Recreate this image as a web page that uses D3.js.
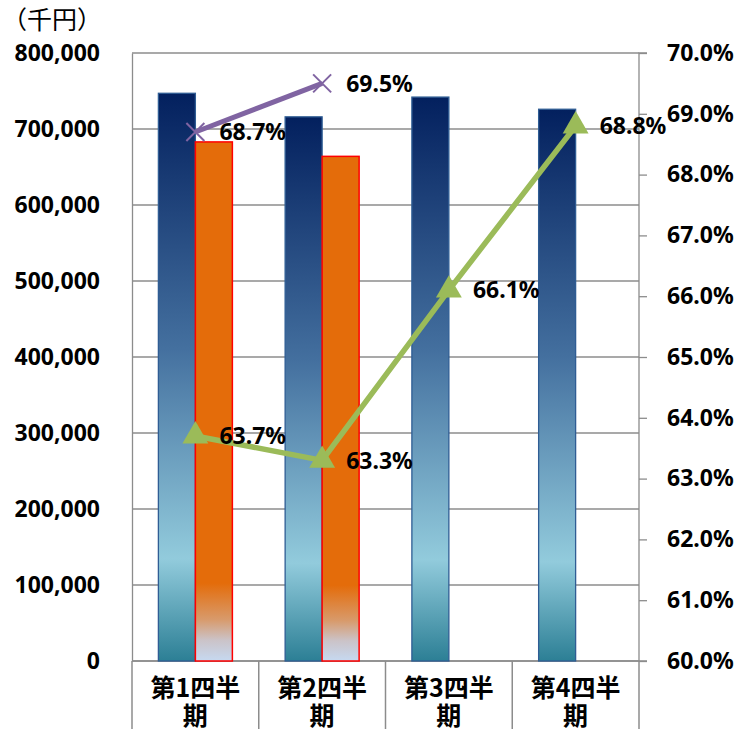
<!DOCTYPE html>
<html>
<head>
<meta charset="utf-8">
<script src="https://cdn.jsdelivr.net/npm/d3@7"></script>
<style>
  body { margin: 0; background: #fff; }
  text { font-family: "Noto Sans", "Noto Sans CJK JP", sans-serif; }
</style>
</head>
<body>
<div id="viz"></div>
<script>
// data
let quarters = ['第1四半期', '第2四半期', '第3四半期', '第4四半期'];
let quarterLines = [['第1四半', '期'], ['第2四半', '期'], ['第3四半', '期'], ['第4四半', '期']];
let salesValues = [747000, 716000, 742000, 726000];     // blue bars
let costValues = [683000, 664000, null, null];          // orange bars
let rateGreen = [63.7, 63.3, 66.1, 68.8];               // triangle line
let ratePurple = [68.7, 69.5, null, null];              // x line
let leftTicks = [0, 100000, 200000, 300000, 400000, 500000, 600000, 700000, 800000];
let rightTicks = [60, 61, 62, 63, 64, 65, 66, 67, 68, 69, 70];

let margin = {top: 53, right: 96, bottom: 68, left: 132},
    width = 735 - margin.left - margin.right,
    height = 729 - margin.top - margin.bottom;

let svg = d3.select('#viz')
  .append('svg')
  .attr('width', 735)
  .attr('height', 729)
  .append('g')
  .attr('transform', `translate(${margin.left}, ${margin.top})`);

// gradients
let defs = svg.append('defs');
let blueGrad = defs.append('linearGradient').attr('id', 'blueGrad')
  .attr('x1', 0).attr('y1', 0).attr('x2', 0).attr('y2', 1);
[[0, '#03205e'], [0.45, '#44709f'], [0.82, '#92cbdc'], [1, '#2c7f95']].forEach(s =>
  blueGrad.append('stop').attr('offset', s[0]).attr('stop-color', s[1]));
let orangeGrad = defs.append('linearGradient').attr('id', 'orangeGrad')
  .attr('x1', 0).attr('y1', 0).attr('x2', 0).attr('y2', 1);
[[0, '#e46c0a'], [0.85, '#e46c0a'], [0.92, '#d89a6b'], [0.96, '#cbc3c8'], [1, '#c6d9f1']].forEach(s =>
  orangeGrad.append('stop').attr('offset', s[0]).attr('stop-color', s[1]));

let x = d3.scaleBand().domain(quarters).range([0, width]);
let xSub = d3.scaleBand().domain(['sales', 'cost']).range([0, x.bandwidth()]).paddingOuter(0.713);
let y = d3.scaleLinear().domain([0, 800000]).range([height, 0]);
let y2 = d3.scaleLinear().domain([60, 70]).range([height, 0]);

// gridlines
svg.append('g')
  .selectAll('line')
  .data(leftTicks)
  .join('line')
  .attr('x1', 0).attr('x2', width)
  .attr('y1', d => y(d)).attr('y2', d => y(d))
  .attr('stroke', '#8c8c8c').attr('stroke-width', 1.3);

// left axis
let yAxis = svg.append('g')
  .call(d3.axisLeft(y).tickValues(leftTicks).tickSize(0).tickPadding(32).tickFormat(d3.format(',')));
yAxis.select('.domain').attr('stroke', '#8c8c8c').attr('stroke-width', 1.3);
yAxis.selectAll('text').style('font-size', '23px').style('font-weight', 'bold').attr('fill', '#000');

svg.append('text')
  .attr('x', -30).attr('y', -24)
  .attr('text-anchor', 'end')
  .style('font-size', '25px')
  .style('font-family', '"Noto Sans CJK JP", sans-serif')
  .text('（千円）');

// right axis
let y2Axis = svg.append('g')
  .attr('transform', `translate(${width},0)`)
  .call(d3.axisRight(y2).tickValues(rightTicks).tickSize(8).tickPadding(20).tickFormat(d => d.toFixed(1) + '%'));
y2Axis.selectAll('.domain, line').attr('stroke', '#8c8c8c').attr('stroke-width', 1.3);
y2Axis.select('.domain').attr('d', `M8,0H0V${height}H8`);
y2Axis.selectAll('text').style('font-size', '23px').style('font-weight', 'bold').attr('fill', '#000');

// bottom axis with category separators
svg.append('line')
  .attr('x1', 0).attr('x2', width).attr('y1', height).attr('y2', height)
  .attr('stroke', '#8c8c8c').attr('stroke-width', 1.5);
svg.append('g')
  .selectAll('line')
  .data(d3.range(quarters.length + 1))
  .join('line')
  .attr('x1', i => i * x.step()).attr('x2', i => i * x.step())
  .attr('y1', height).attr('y2', height + margin.bottom)
  .attr('stroke', '#8c8c8c').attr('stroke-width', 1.5);

// category labels, two lines each
[0, 1].forEach(row => {
  svg.append('g')
    .selectAll('text')
    .data(quarters)
    .join('text')
    .attr('x', d => x(d) + x.bandwidth() / 2)
    .attr('y', height + 36 + row * 28)
    .attr('text-anchor', 'middle')
    .style('font-size', '25px')
    .style('font-weight', 'bold')
    .style('font-family', '"Noto Sans CJK JP", sans-serif')
    .text((d, i) => quarterLines[i][row]);
});

// bars
svg.append('g')
  .selectAll('rect')
  .data(quarters.map((q, i) => ({q: q, v: salesValues[i]})))
  .join('rect')
  .attr('x', d => x(d.q) + xSub('sales'))
  .attr('y', d => y(d.v))
  .attr('width', xSub.bandwidth())
  .attr('height', d => height - y(d.v))
  .attr('fill', 'url(#blueGrad)')
  .attr('stroke', '#2f5d94')
  .attr('stroke-width', 1.3);

svg.append('g')
  .selectAll('rect')
  .data(quarters.map((q, i) => ({q: q, v: costValues[i]})).filter(d => d.v != null))
  .join('rect')
  .attr('x', d => x(d.q) + xSub('cost'))
  .attr('y', d => y(d.v))
  .attr('width', xSub.bandwidth())
  .attr('height', d => height - y(d.v))
  .attr('fill', 'url(#orangeGrad)')
  .attr('stroke', '#ff0000')
  .attr('stroke-width', 1.5);

// lines
let cx = q => x(q) + x.bandwidth() / 2;
let line = d3.line().x(d => cx(d.q)).y(d => y2(d.v));

function drawSeries(values, color, lw, marker) {
  let pts = quarters.map((q, i) => ({q: q, v: values[i]})).filter(d => d.v != null);
  let g = svg.append('g');
  g.append('path')
    .datum(pts)
    .attr('d', line)
    .attr('fill', 'none')
    .attr('stroke', color)
    .attr('stroke-width', lw)
    .attr('stroke-linejoin', 'round');
  if (marker === 'triangle') {
    g.selectAll('path.m')
      .data(pts)
      .join('path')
      .attr('class', 'm')
      .attr('d', d3.symbol().type(d3.symbolTriangle).size(290))
      .attr('transform', d => `translate(${cx(d.q)},${y2(d.v)})`)
      .attr('fill', color);
  } else {
    g.selectAll('path.m')
      .data(pts)
      .join('path')
      .attr('class', 'm')
      .attr('d', 'M-9,-9L9,9M-9,9L9,-9')
      .attr('transform', d => `translate(${cx(d.q)},${y2(d.v)})`)
      .attr('stroke', color)
      .attr('stroke-width', 2);
  }
  g.selectAll('text')
    .data(pts)
    .join('text')
    .attr('x', d => cx(d.q) + 24)
    .attr('y', d => y2(d.v) + 2)
    .attr('dominant-baseline', 'middle')
    .style('font-size', '23px')
    .style('font-weight', 'bold')
    .text(d => d.v.toFixed(1) + '%');
}

drawSeries(ratePurple, '#8064a2', 5, 'x');
drawSeries(rateGreen, '#9bbb59', 5.5, 'triangle');
</script>
</body>
</html>
